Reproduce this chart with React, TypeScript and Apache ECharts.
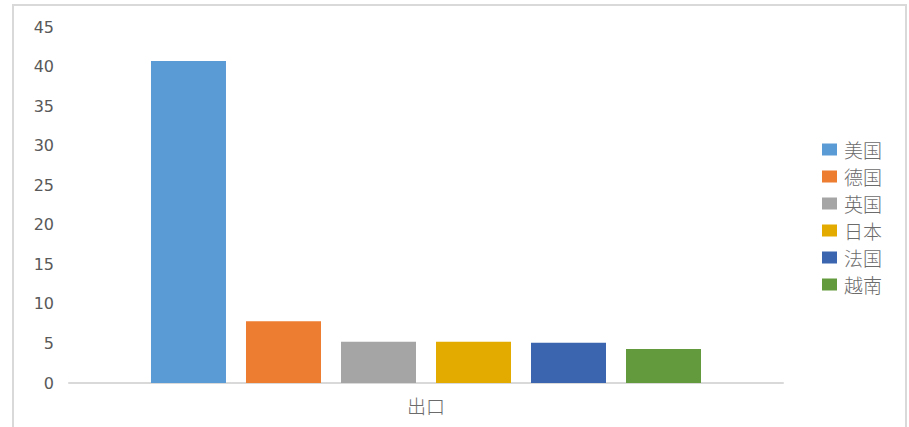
import React, { useEffect, useRef } from "react";
import * as echarts from "echarts";

// Export share by country
const categories = ["出口"];
const countries = ["美国", "德国", "英国", "日本", "法国", "越南"];
const values = [40.7, 7.8, 5.2, 5.2, 5.1, 4.3];
const colors = ["#5B9BD5", "#ED7D31", "#A5A5A5", "#E3AA00", "#3B65AF", "#629A3D"];
const yTicks = [0, 5, 10, 15, 20, 25, 30, 35, 40, 45];

export default function App() {
  const ref = useRef<HTMLDivElement>(null);

  useEffect(() => {
    if (!ref.current) return;
    const chart = echarts.init(ref.current, undefined, { renderer: "svg" });
    chart.setOption({
      animation: false,
      backgroundColor: "#ffffff",
      graphic: [
        {
          type: "rect",
          shape: { x: 13, y: 5, width: 893, height: 430 },
          style: { fill: "none", stroke: "#d9d9d9", lineWidth: 2 },
          silent: true,
        },
      ],
      grid: { left: 69, right: 126, top: 27, bottom: 44 },
      legend: {
        orient: "vertical",
        left: 817,
        top: 135,
        itemWidth: 15,
        itemHeight: 12,
        itemGap: 8,
        icon: "rect",
        data: countries,
        textStyle: {
          color: "#6b6b6b",
          fontSize: 19,
          lineHeight: 19,
          fontFamily: "Noto Sans CJK SC",
          fontWeight: 300,
          padding: [0, 0, 0, 2],
        },
      },
      xAxis: {
        type: "category",
        data: categories,
        axisLine: { lineStyle: { color: "#d9d9d9", width: 2 } },
        axisTick: { show: false },
        axisLabel: {
          color: "#6b6b6b",
          fontSize: 19,
          margin: 13,
          fontFamily: "Noto Sans CJK SC",
          fontWeight: 300,
        },
      },
      yAxis: {
        type: "value",
        min: yTicks[0],
        max: yTicks[yTicks.length - 1],
        interval: 5,
        axisLine: { show: false },
        axisTick: { show: false },
        splitLine: { show: false },
        axisLabel: {
          color: "#595959",
          fontSize: 16,
          margin: 15,
          fontFamily: "DejaVu Sans",
        },
      },
      series: countries.map((name, i) => ({
        name,
        type: "bar",
        data: [values[i]],
        barWidth: 75,
        barGap: "26.67%",
        itemStyle: { color: colors[i] },
      })),
    });
    return () => chart.dispose();
  }, []);

  return (
    <div
      ref={ref}
      style={{ position: "fixed", left: 0, top: 0, width: 909, height: 427 }}
    />
  );
}
